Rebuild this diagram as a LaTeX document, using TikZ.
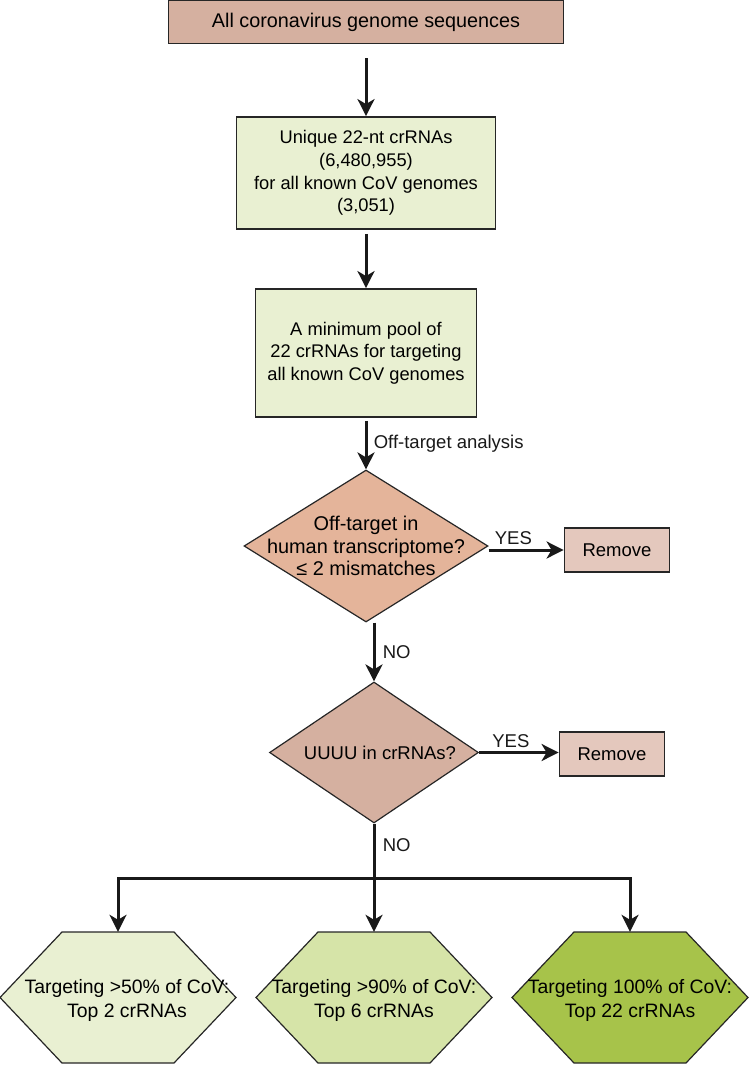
\documentclass[tikz,border=0pt]{standalone}
\usepackage{fontspec}
\setmainfont{Liberation Sans}
\usepackage{tikz}
\usetikzlibrary{arrows.meta,positioning,shapes.geometric}

\definecolor{tanbox}{HTML}{D5B0A0}
\definecolor{greenpale}{HTML}{E9F0D2}
\definecolor{offcol}{HTML}{E4B49A}
\definecolor{removecol}{HTML}{E4C8BD}
\definecolor{hexmid}{HTML}{D6E4A8}
\definecolor{hexdark}{HTML}{A7C34A}

\begin{document}
\begin{tikzpicture}[
  x=1pt,y=-1pt,
  font=\fontsize{18.5}{23}\selectfont,
  block/.style={draw=black!85,line width=1.8pt,fill=greenpale,align=center,inner sep=0pt,font=\fontsize{18.3}{22.7}\selectfont},
  decision/.style={diamond,draw=black!85,line width=1.2pt,inner sep=0pt},
  removebox/.style={draw=black!85,line width=1.8pt,fill=removecol,minimum width=105pt,minimum height=44pt},
  hexa/.style={minimum width=240pt,minimum height=135pt,inner sep=0pt,
    path picture={\path[fill=#1,draw=black!85,line width=1.2pt]
      ([xshift=2pt]path picture bounding box.west)
      -- ([xshift=64pt,yshift=-2pt]path picture bounding box.north west)
      -- ([xshift=-64pt,yshift=-2pt]path picture bounding box.north east)
      -- ([xshift=-2pt]path picture bounding box.east)
      -- ([xshift=-64pt,yshift=2pt]path picture bounding box.south east)
      -- ([xshift=64pt,yshift=2pt]path picture bounding box.south west) -- cycle;}},
  hextext/.style={align=center,yshift=-3pt,font=\fontsize{19.4}{24}\selectfont},
  arrow/.style={-{Stealth[length=17pt,width=17pt,inset=5pt]},line width=3pt,color=black!90}
]
\useasboundingbox (0,0) rectangle (749,1065);

\node[block,fill=tanbox,minimum width=395pt,minimum height=43pt,font=\fontsize{19.8}{23}\selectfont] (allseq) at (366,22) {All coronavirus genome sequences};
\node[block,minimum width=259pt,minimum height=112pt] (unique) at (366,173) {Unique 22-nt crRNAs\\(6,480,955)\\for all known CoV genomes\\(3,051)};
\node[block,minimum width=221pt,minimum height=128pt] (pool) at (366,353) {A minimum pool of\\22 crRNAs for targeting\\all known CoV genomes};
\node[decision,fill=offcol,minimum width=244pt,minimum height=152pt,
  label={[align=center,font=\fontsize{19.9}{22.5}\selectfont]center:Off-target in\\human transcriptome?\\≤ 2 mismatches}] (offt) at (366,546) {};
\node[removebox] (rem1) at (617,550) {Remove};
\node[decision,fill=tanbox,minimum width=209pt,minimum height=141pt,
  label={[xshift=6pt]center:UUUU in crRNAs?}] (uuuu) at (374,752.5) {};
\node[removebox] (rem2) at (612,754) {Remove};

% three pools of guides
\node[hexa=greenpale,label={[hextext,xshift=9pt]center:Targeting >50\% of CoV:\\Top 2 crRNAs}] (top2) at (118,997.5) {};
\node[hexa=hexmid,label={[hextext]center:Targeting >90\% of CoV:\\Top 6 crRNAs}] (top6) at (374,997.5) {};
\node[hexa=hexdark,label={[hextext]center:Targeting 100\% of CoV:\\Top 22 crRNAs}] (top22) at (630,997.5) {};
\coordinate (split) at (374,878);

\draw[arrow,shorten <=14pt] (allseq) -- (unique);
\draw[arrow,shorten <=4pt] (unique) -- (pool);
\draw[arrow,shorten <=3pt] (pool) -- (offt) node[midway,right,xshift=3pt] {Off-target analysis};
\draw[arrow] (rem1.west -| offt.east) -- (rem1.west) node[pos=0.33,above] {YES};
\draw[arrow] (offt.south -| uuuu.north) -- (uuuu.north) node[midway,right,xshift=4pt] {NO};
\draw[arrow] (uuuu.east) -- (rem2.west |- uuuu.east) node[pos=0.4,above] {YES};
\draw[arrow,shorten >=-2pt] (uuuu) -- (top6) node[pos=0.2,right,xshift=4pt] {NO};
\draw[arrow,shorten >=-2pt] (split) -| (top2);
\draw[arrow,shorten >=-2pt] (split) -| (top22);
\end{tikzpicture}
\end{document}
